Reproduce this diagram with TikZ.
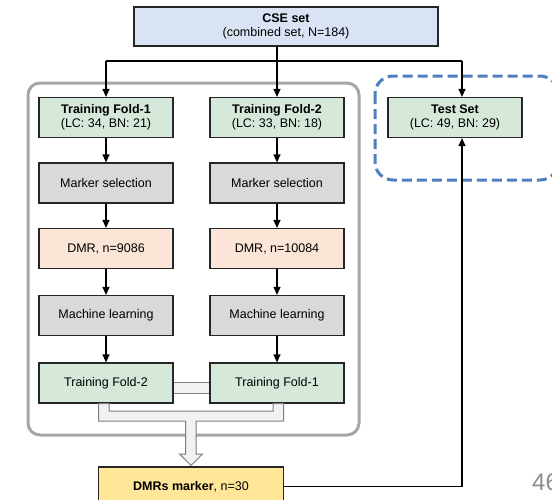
\documentclass[tikz,border=0pt]{standalone}
\usepackage{fontspec}
\setmainfont{Liberation Sans}
\usetikzlibrary{arrows.meta,calc}

\definecolor{cseblue}{HTML}{DAE3F3}
\definecolor{foldgreen}{HTML}{D5E8D9}
\definecolor{stepgray}{HTML}{D9D9D9}
\definecolor{dmrpeach}{HTML}{FBE5D6}
\definecolor{markeryellow}{HTML}{FFE699}
\definecolor{framegray}{HTML}{A6A6A6}
\definecolor{testblue}{HTML}{4F7FBE}
\definecolor{bandfill}{HTML}{F2F2F2}
\definecolor{bandline}{HTML}{7F7F7F}
\definecolor{pagegray}{HTML}{8C8C8C}

\tikzset{
  every node/.style={font=\fontsize{12.5}{14}\selectfont},
  box/.style={draw=black!85, line width=1.2pt, minimum width=134pt,
    minimum height=40pt, inner sep=0pt, align=center},
  fold/.style={box, fill=foldgreen},
  stepbox/.style={box, fill=stepgray},
  dmrbox/.style={box, fill=dmrpeach},
  arr/.style={-{Triangle[length=8pt,width=7pt]}, line width=1.2pt},
}

\begin{document}
\begin{tikzpicture}[x=1pt, y=-1pt]
  \clip (0,0) rectangle (552,499);
  \fill[white] (0,0) rectangle (552,499);

  % frames round the two folds and the test set
  \draw[framegray, line width=3pt, rounded corners=12pt] (28,83) rectangle (359,435);
  \draw[testblue, line width=3pt, dash pattern=on 10pt off 5pt, rounded corners=18pt]
    (375,76) rectangle (558,180);

  \node[box, fill=cseblue, minimum width=304pt, minimum height=39pt] (cse) at (286,26.5)
    {\textbf{CSE set}\\(combined set, N=184)};

  \node[fold] (fa1) at (106,117.5) {\textbf{Training Fold-1}\\(LC: 34, BN: 21)};
  \node[fold] (fa2) at (277,117.5) {\textbf{Training Fold-2}\\(LC: 33, BN: 18)};
  \node[fold] (test) at (455,117.5) {\textbf{Test Set}\\(LC: 49, BN: 29)};

  \node[stepbox] (ms1) at (106,183) {Marker selection};
  \node[stepbox] (ms2) at (277,183) {Marker selection};
  \node[dmrbox] (dmr1) at (106,248.5) {DMR, n=9086};
  \node[dmrbox] (dmr2) at (277,248.5) {DMR, n=10084};
  \node[stepbox] (ml1) at (106,315.5) {Machine learning};
  \node[stepbox] (ml2) at (277,315.5) {Machine learning};
  \node[fold] (fb1) at (106,383) {Training Fold-2};
  \node[fold] (fb2) at (277,383) {Training Fold-1};

  \node[box, fill=markeryellow, minimum width=185pt, minimum height=39pt] (marker) at (191,486.5)
    {\textbf{DMRs marker}, n=30};

  % split of the combined set
  \coordinate (split) at (277,61);
  \coordinate (tsplit) at (462,61);
  \draw[line width=1.2pt] (fa1.north |- split) -- (tsplit);
  \draw[arr] (fa1.north |- split) -- (fa1.north);
  \draw[arr] (cse.south -| fa2.north) -- (fa2.north);
  \draw[arr] (tsplit) -- (tsplit |- test.north);

  % the two training columns
  \foreach \c in {1,2} {
    \draw[arr] (fa\c) -- (ms\c);
    \draw[arr] (ms\c) -- (dmr\c);
    \draw[arr] (dmr\c) -- (ml\c);
    \draw[arr] (ml\c) -- (fb\c);
  }

  % exchange between the folds
  \fill[bandfill] ($(fb1.east)+(0,-1)$) rectangle ($(fb2.west)+(0,10)$);
  \draw[bandline, line width=1pt] ($(fb1.east)+(0,-1)$) -- ($(fb2.west)+(0,-1)$)
    ($(fb1.east)+(0,10)$) -- ($(fb2.west)+(0,10)$);

  % merged markers
  \draw[bandline, fill=bandfill, line width=1pt]
    (98.6,403.5) -- (98.6,421) -- (185.6,421) -- (185.6,454) -- (179.6,454)
    -- (191,465.5) -- (202.5,454) -- (196,454) -- (196,421) -- (283.5,421)
    -- (283.5,403.5) -- (273,403.5) -- (273,411) -- (109,411) -- (109,403.5) -- cycle;

  \draw[arr] (marker.east) -| (tsplit |- test.south);

  \node[anchor=base west, inner sep=0pt, text=pagegray, font=\fontsize{24}{24}\selectfont]
    (pageno) at (532,490) {46};
\end{tikzpicture}
\end{document}
